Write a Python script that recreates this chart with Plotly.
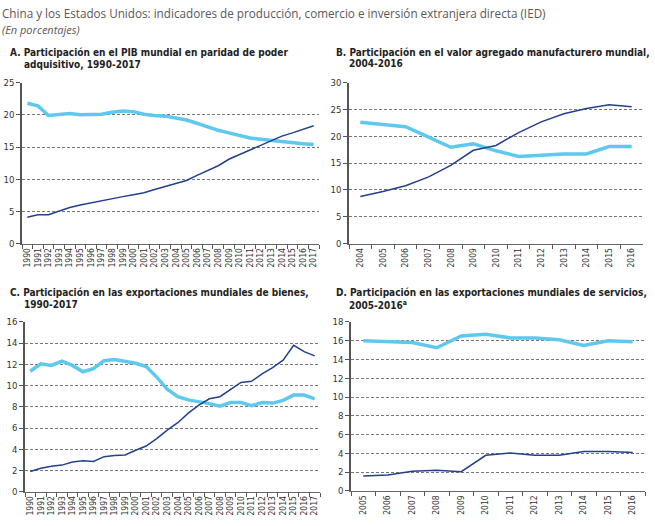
import plotly.graph_objects as go

W, H = 655, 526

# Panel A: PIB mundial en PPA, 1990-2017
years_a = [str(y) for y in range(1990, 2018)]
china_a = [4.1, 4.5, 4.5, 5.1, 5.6, 6.0, 6.35, 6.7, 7.0, 7.3, 7.6, 7.9, 8.4, 8.9,
           9.3, 9.8, 10.6, 11.3, 12.1, 13.1, 13.8, 14.5, 15.3, 16.0, 16.7, 17.2, 17.8, 18.3]
usa_a = [21.8, 21.4, 19.9, 20.0, 20.2, 20.0, 20.0, 20.1, 20.4, 20.6, 20.5, 20.1, 19.9, 19.8,
         19.5, 19.2, 18.7, 18.1, 17.6, 17.2, 16.8, 16.4, 16.2, 16.0, 15.9, 15.7, 15.5, 15.4]

# Panel B: valor agregado manufacturero, 2004-2016
years_b = [str(y) for y in range(2004, 2017)]
china_b = [8.8, 9.7, 10.8, 12.4, 14.6, 17.4, 18.3, 20.7, 22.7, 24.2, 25.2, 25.9, 25.5]
usa_b = [22.6, 22.2, 21.8, 19.9, 17.95, 18.6, 17.3, 16.25, 16.5, 16.7, 16.7, 18.1, 18.1]

# Panel C: exportaciones de bienes, 1990-2017
years_c = [str(y) for y in range(1990, 2018)]
china_c = [1.9, 2.2, 2.4, 2.5, 2.8, 2.9, 2.85, 3.3, 3.4, 3.45, 3.9, 4.3, 5.0, 5.8,
           6.5, 7.4, 8.15, 8.75, 8.95, 9.6, 10.3, 10.4, 11.1, 11.7, 12.4, 13.8, 13.2, 12.8]
usa_c = [11.35, 12.05, 11.9, 12.3, 11.9, 11.3, 11.6, 12.35, 12.45, 12.25, 12.1, 11.8, 10.8, 9.65,
         8.95, 8.65, 8.5, 8.3, 8.05, 8.4, 8.4, 8.1, 8.4, 8.35, 8.6, 9.1, 9.1, 8.75]

# Panel D: exportaciones de servicios, 2005-2016
years_d = [str(y) for y in range(2005, 2017)]
china_d = [1.6, 1.7, 2.1, 2.2, 2.05, 3.8, 4.05, 3.8, 3.8, 4.2, 4.2, 4.1]
usa_d = [16.0, 15.9, 15.8, 15.25, 16.5, 16.7, 16.3, 16.3, 16.1, 15.5, 16.0, 15.9]

DARK = "#23408e"
LIGHT = "#5ec8ee"
NARROW = "DejaVu Sans Condensed, Liberation Sans Narrow, sans-serif"
HEAD = "Open Sans, Lato, sans-serif"


def px(x):
    return x / W


def py(y):
    return 1 - y / H


panels = [
    # years, china, usa, x-domain px, y-domain px, ymax, dtick
    (years_a, china_a, usa_a, (22, 319), (78.3, 242.7), 25, 5),
    (years_b, china_b, usa_b, (349, 643), (78.3, 242.7), 30, 5),
    (years_c, china_c, usa_c, (25, 320), (322.7, 496), 16, 2),
    (years_d, china_d, usa_d, (351, 645), (322.7, 495.3), 18, 2),
]

fig = go.Figure()
layout = {}
for i, (yrs, ch, us, xd, yd, ymax, dt) in enumerate(panels, start=1):
    xa = "x" if i == 1 else f"x{i}"
    ya = "y" if i == 1 else f"y{i}"
    fig.add_trace(go.Scatter(x=yrs, y=us, mode="lines", xaxis=xa, yaxis=ya,
                             line=dict(color=LIGHT, width=3.5), showlegend=False))
    fig.add_trace(go.Scatter(x=yrs, y=ch, mode="lines", xaxis=xa, yaxis=ya,
                             line=dict(color=DARK, width=1.5), showlegend=False))
    sfx = "" if i == 1 else str(i)
    layout["xaxis" + sfx] = dict(
        domain=[px(xd[0]), px(xd[1])], anchor=ya, type="category", dtick=1,
        range=[-0.5, len(yrs) - 0.5], tickson="boundaries", ticks="outside",
        ticklen=4, tickcolor="#555", showline=True, linecolor="#666", linewidth=1,
        showgrid=False, tickangle=-90, tickfont=dict(family=NARROW, size=8.5, color="#333"),
    )
    layout["yaxis" + sfx] = dict(
        domain=[py(yd[1]), py(yd[0])], anchor=xa, range=[0, ymax], dtick=dt,
        ticks="outside", ticklen=4, tickcolor="#555", showline=True, linecolor="#555",
        linewidth=1.5, zeroline=False, showgrid=True, gridcolor="#777", griddash="3px,2px",
        gridwidth=1, tickfont=dict(family=NARROW, size=9.5, color="#333"),
    )

titles = [
    ("A. Participación en el PIB mundial en paridad de poder", 8, 48),
    ("adquisitivo, 1990-2017", 22, 60),
    ("B. Participación en el valor agregado manufacturero mundial,", 334, 47),
    ("2004-2016", 347, 59),
    ("C. Participación en las exportaciones mundiales de bienes,", 8, 293),
    ("1990-2017", 22, 305),
    ("D. Participación en las exportaciones mundiales de servicios,", 334, 293),
    ("2005-2016<sup>a</sup>", 347, 305),
]
annotations = []
for text, x, y in titles:
    annotations.append(dict(text="<b>" + text + "</b>", x=px(x), y=py(y), xref="paper", yref="paper",
                            xanchor="left", yanchor="middle", showarrow=False,
                            font=dict(family=NARROW, size=10, color="#222")))

annotations.append(dict(
    text="China y los Estados Unidos: indicadores de producción, comercio e inversión extranjera directa (IED)",
    x=0, y=py(7.5), xref="paper", yref="paper", xanchor="left", yanchor="middle", showarrow=False,
    font=dict(family=HEAD, size=11.7, color="#595959")))
annotations.append(dict(
    text="<i>(En porcentajes)</i>", x=0, y=py(23.5), xref="paper", yref="paper",
    xanchor="left", yanchor="middle", showarrow=False,
    font=dict(family=HEAD, size=11, color="#595959")))

fig.update_layout(
    width=W, height=H, margin=dict(l=0, r=0, t=0, b=0),
    paper_bgcolor="white", plot_bgcolor="white",
    annotations=annotations, **layout,
)

fig.write_html("out.html", config={"displayModeBar": False},
               post_script="document.body.style.margin='0px';")
